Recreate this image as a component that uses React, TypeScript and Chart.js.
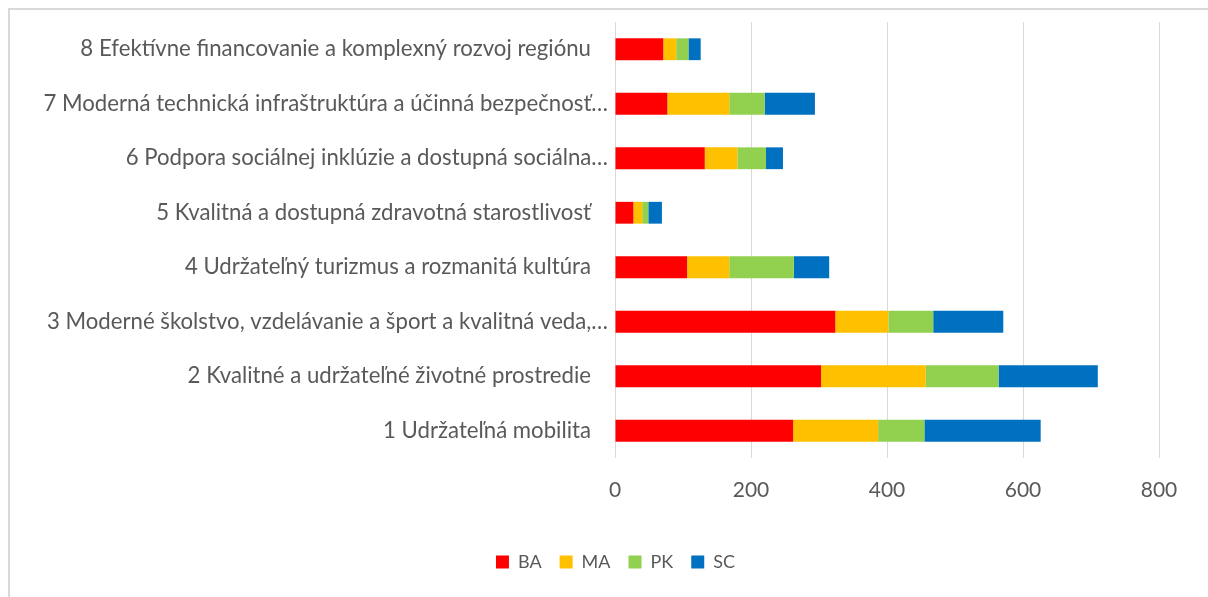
import React, { useEffect, useRef } from "react";
import { Chart, registerables } from "chart.js";

Chart.register(...registerables);

const categories: string[] = [
  "1 Udržateľná mobilita   ",
  "2 Kvalitné a udržateľné životné prostredie   ",
  "3 Moderné školstvo, vzdelávanie a šport a kvalitná veda,…",
  "4 Udržateľný turizmus a rozmanitá kultúra   ",
  "5 Kvalitná a dostupná zdravotná starostlivosť   ",
  "6 Podpora sociálnej inklúzie a dostupná sociálna…",
  "7 Moderná technická infraštruktúra a účinná bezpečnosť…",
  "8 Efektívne financovanie a komplexný rozvoj regiónu   ",
];

const seriesNames: string[] = ["BA", "MA", "PK", "SC"];
const baValues: number[] = [262, 303, 324, 106, 27, 132, 77, 71];
const maValues: number[] = [125, 154, 78, 62, 13, 48, 91, 19];
const pkValues: number[] = [68, 107, 66, 95, 9, 42, 52, 18];
const scValues: number[] = [171, 146, 103, 52, 20, 25, 74, 18];
const seriesColors: string[] = ["#FF0000", "#FFC000", "#92D050", "#0070C0"];

const xMin = 0;
const xMax = 800;
const xStep = 200;

const FONT = "Lato";
const TEXT = "#595959";

if (typeof document !== "undefined") {
  document.documentElement.style.overflow = "hidden";
  document.body.style.overflow = "hidden";
  const st = document.createElement("style");
  st.textContent =
    "html,body{overflow:hidden;scrollbar-width:none;}::-webkit-scrollbar{display:none;width:0;height:0;}";
  document.head.appendChild(st);
}

const legendShift = {
  id: "legendShift",
  afterLayout(chart: any) {
    const lg = chart.legend;
    if (lg) {
      lg.left += 31;
      lg.right += 31;
    }
  },
};

export default function App() {
  const ref = useRef<HTMLCanvasElement | null>(null);

  useEffect(() => {
    const canvas = ref.current;
    if (!canvas) return;
    const values = [baValues, maValues, pkValues, scValues];
    const chart = new Chart(canvas, {
      type: "bar",
      data: {
        labels: categories,
        datasets: seriesNames.map((name, i) => ({
          label: name,
          data: values[i],
          backgroundColor: seriesColors[i],
          borderWidth: 0,
          categoryPercentage: 0.8,
          barPercentage: 0.5,
        })),
      },
      options: {
        indexAxis: "y",
        animation: false,
        responsive: false,
        maintainAspectRatio: false,
        layout: { padding: { top: 12, right: 49, left: 0, bottom: 16 } },
        scales: {
          x: {
            stacked: true,
            min: xMin,
            max: xMax,
            ticks: {
              stepSize: xStep,
              color: TEXT,
              font: { family: FONT, size: 21 },
              padding: 20,
            },
            grid: { color: "#D9D9D9", lineWidth: 1, drawTicks: false },
            border: { display: false },
            afterFit: (s: any) => {
              s.height = 77;
              s.paddingLeft = 0;
              s.paddingRight = 0;
            },
          },
          y: {
            stacked: true,
            reverse: true,
            ticks: {
              color: TEXT,
              font: { family: FONT, size: 22.2 },
              padding: 7,
              autoSkip: false,
            },
            grid: { display: false, drawTicks: false },
            border: { display: false },
            afterFit: (s: any) => {
              s.width = 605;
              s.paddingTop = 0;
              s.paddingBottom = 0;
            },
          },
        },
        plugins: {
          legend: {
            position: "bottom",
            labels: {
              color: TEXT,
              font: { family: FONT, size: 18 },
              boxWidth: 13,
              boxHeight: 13,
              padding: 18,
            },
          },
          tooltip: { enabled: false },
        },
      },
      plugins: [legendShift],
    });
    return () => chart.destroy();
  }, []);

  return (
    <div
      style={{
        position: "fixed",
        left: 8,
        top: 8,
        width: 1220,
        height: 600,
        borderTop: "2px solid #D9D9D9",
        borderLeft: "2px solid #D9D9D9",
        boxSizing: "border-box",
        background: "#fff",
      }}
    >
      <canvas ref={ref} width={1198} height={587} style={{ display: "block" }} />
    </div>
  );
}
